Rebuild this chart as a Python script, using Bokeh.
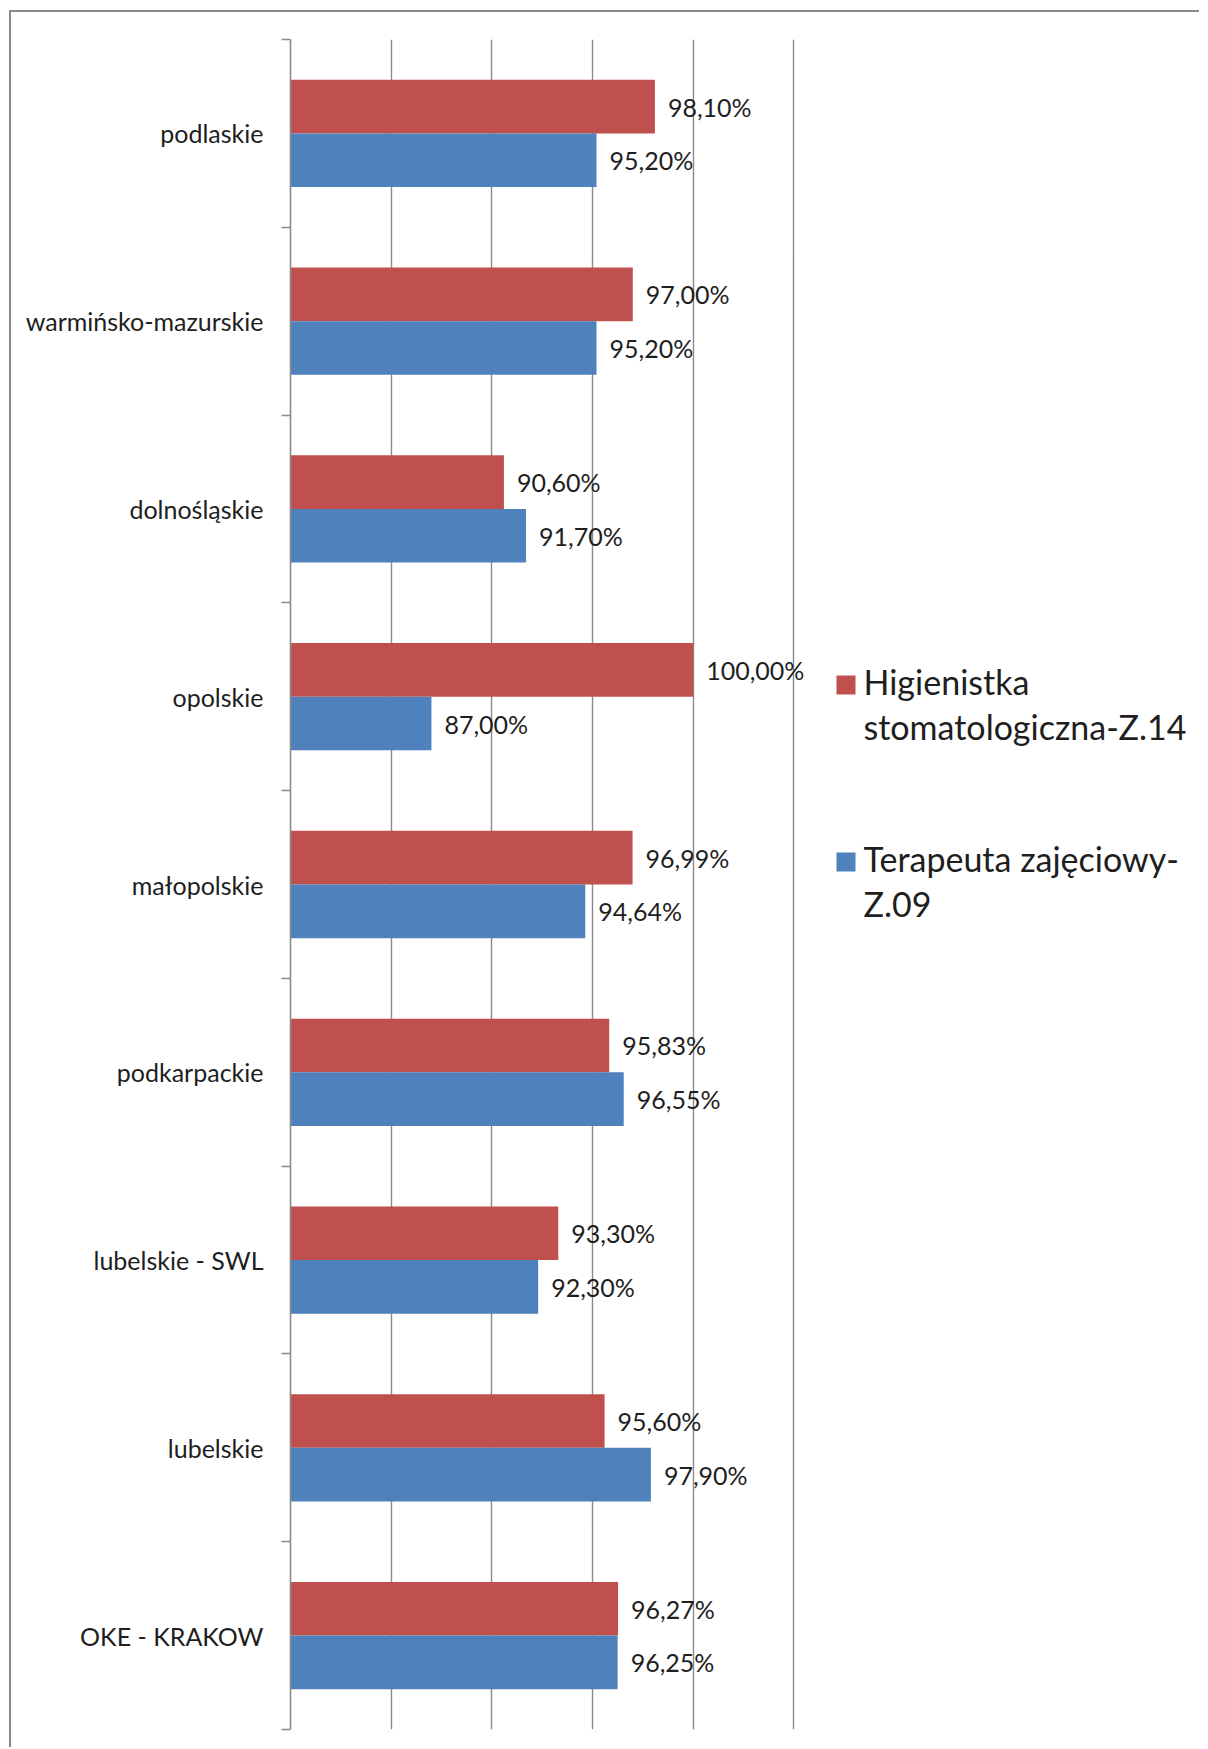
from bokeh.plotting import figure
from bokeh.models import ColumnDataSource, Range1d, FixedTicker, BoxAnnotation, Label
from bokeh.transform import dodge
from bokeh.core.properties import value
from bokeh.embed import file_html
from bokeh.resources import INLINE

# ---- data ----
categories = ["podlaskie", "warmińsko-mazurskie", "dolnośląskie", "opolskie",
              "małopolskie", "podkarpackie", "lubelskie - SWL", "lubelskie",
              "OKE - KRAKOW"]
higienistka = [98.10, 97.00, 90.60, 100.00, 96.99, 95.83, 93.30, 95.60, 96.27]
terapeuta = [95.20, 95.20, 91.70, 87.00, 94.64, 96.55, 92.30, 97.90, 96.25]
legend_lines_h = ["Higienistka", "stomatologiczna-Z.14"]
legend_lines_t = ["Terapeuta zajęciowy-", "Z.09"]
x_grid_values = [85, 90, 95, 100, 105]
x_start = 80
x_end = 125

RED = "#C0504D"
BLUE = "#4F81BD"
GRAY = "#8a8a8a"
TXT = "#1e1e1e"
FONT = "Lato"


def fmt(v):
    return ("%.2f" % v).replace(".", ",") + "%"


n = len(categories)
centers = [i + 0.5 for i in range(n)]
bar_h = 0.2857

src = ColumnDataSource(dict(
    y=centers,
    h=higienistka,
    t=terapeuta,
    lh=[fmt(v) for v in higienistka],
    lt=[fmt(v) for v in terapeuta],
))

p = figure(width=1190, height=1737,
           x_range=Range1d(x_start, x_end), y_range=Range1d(n, 0),
           output_backend="svg", toolbar_location=None,
           min_border_left=279, min_border_right=5,
           min_border_top=27, min_border_bottom=20)
p.outline_line_color = None
p.background_fill_color = "white"
p.border_fill_color = "white"
# chart-area border: left and top edges (right/bottom lie beyond the page)
p.styles = {"margin-left": "9px", "margin-top": "10px",
            "border-left": "2px solid #8a8a8a", "border-top": "2px solid #8a8a8a"}

# x axis hidden, grid kept
p.xaxis.visible = False
p.xgrid.ticker = FixedTicker(ticks=x_grid_values)
p.xgrid.grid_line_color = GRAY
p.xgrid.grid_line_width = 1.4
p.ygrid.visible = False

# y axis with category labels, ticks at category boundaries
yax = p.yaxis[0]
yax.ticker = FixedTicker(ticks=centers, minor_ticks=list(range(n + 1)))
yax.major_label_overrides = {c: cat for c, cat in zip(centers, categories)}
yax.axis_line_color = GRAY
yax.axis_line_width = 1.6
yax.major_tick_out = 0
yax.major_tick_in = 0
yax.minor_tick_out = 9
yax.minor_tick_in = 0
yax.minor_tick_line_color = GRAY
yax.minor_tick_line_width = 1.6
yax.major_label_standoff = 18
yax.major_label_text_font = FONT
yax.major_label_text_font_size = "25px"
yax.major_label_text_color = TXT

# bars
p.hbar(y=dodge("y", -bar_h / 2), left=x_start, right="h", height=bar_h,
       source=src, fill_color=RED, line_color=None)
p.hbar(y=dodge("y", bar_h / 2), left=x_start, right="t", height=bar_h,
       source=src, fill_color=BLUE, line_color=None)

# data labels
p.text(x="h", y=dodge("y", -bar_h / 2), text="lh", source=src,
       x_offset=13, text_baseline="middle", text_align="left",
       text_font=value(FONT), text_font_size="25px", text_color=TXT)
p.text(x="t", y=dodge("y", bar_h / 2), text="lt", source=src,
       x_offset=13, text_baseline="middle", text_align="left",
       text_font=value(FONT), text_font_size="25px", text_color=TXT)

# legend
for (sq_top, color, lines, ty) in [(661, RED, legend_lines_h, 667),
                                    (838, BLUE, legend_lines_t, 844)]:
    p.add_layout(BoxAnnotation(left=823, right=842, top=sq_top, bottom=sq_top + 19,
                               left_units="canvas", right_units="canvas",
                               top_units="canvas", bottom_units="canvas",
                               fill_color=color, fill_alpha=1, line_color=None))
    for k, line in enumerate(lines):
        p.add_layout(Label(x=850, y=ty + 45 * k, x_units="canvas", y_units="canvas",
                           text=line, text_align="left", text_baseline="middle",
                           text_font=FONT, text_font_size="34px", text_color=TXT))

open("out.html", "w").write(file_html(p, INLINE))
